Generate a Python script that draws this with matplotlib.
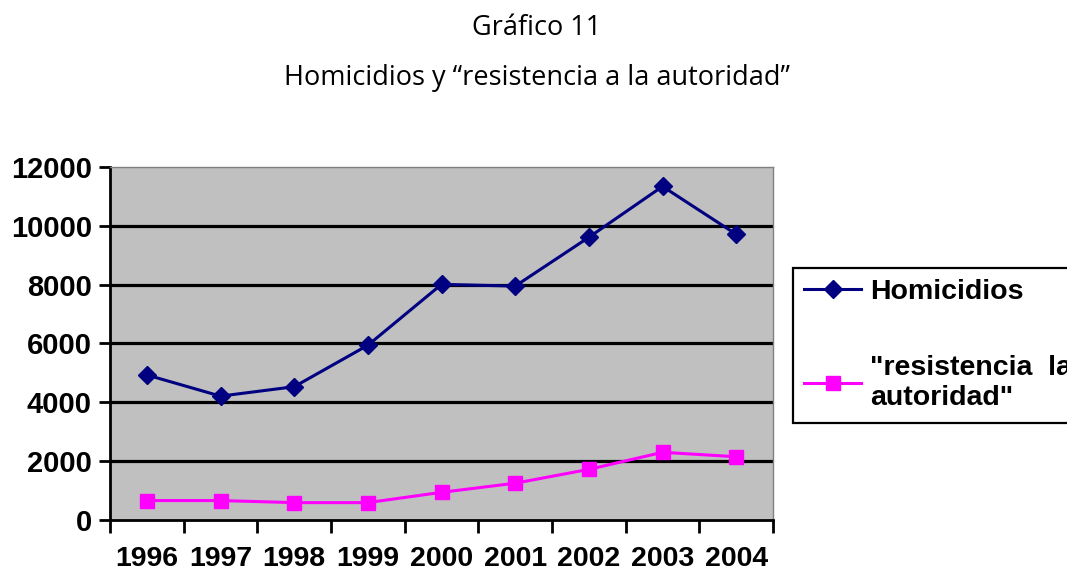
import numpy as np
import matplotlib
matplotlib.use("Agg")
import matplotlib.pyplot as plt

years = ['1996', '1997', '1998', '1999', '2000', '2001', '2002', '2003', '2004']
homicidios = [4930, 4210, 4530, 5940, 8010, 7950, 9610, 11340, 9710]
resistencia = [660, 660, 590, 590, 940, 1250, 1720, 2300, 2150]
yticks = [0, 2000, 4000, 6000, 8000, 10000, 12000]

plt.rcParams['font.family'] = ['Liberation Sans', 'DejaVu Sans']

fig = plt.figure(figsize=(10.67, 5.75), dpi=100)
ax = fig.add_axes([0.1031, 0.0957, 0.6214, 0.6139])
ax.set_facecolor('#C0C0C0')

x = np.arange(len(years)) + 0.5
ax.plot(x, homicidios, '-D', color='#000080', lw=2.2, ms=9,
        label='Homicidios', zorder=3)
ax.plot(x, resistencia, '-s', color='#FF00FF', lw=2.2, ms=10.5,
        label='"resistencia  la\nautoridad"', zorder=3)

ax.set_xlim(0, len(years))
ax.set_ylim(0, 12000)
ax.set_yticks(yticks)
ax.set_yticklabels([str(v) for v in yticks], fontsize=21, fontweight='bold')
for v in yticks[1:-1]:
    ax.axhline(v, color='black', lw=2.3, zorder=1)

ax.set_xticks(np.arange(len(years) + 1))
ax.set_xticklabels([])
ax.set_xticks(x, minor=True)
ax.set_xticklabels(years, minor=True, fontsize=20.5, fontweight='bold')
ax.tick_params(axis='x', which='major', direction='out', length=9, width=2)
ax.tick_params(axis='x', which='minor', length=0, pad=19)
ax.tick_params(axis='y', direction='out', length=8, width=2, pad=5)

for s in ['left', 'bottom']:
    ax.spines[s].set_linewidth(2)
    ax.spines[s].set_color('black')
for s in ['top', 'right']:
    ax.spines[s].set_linewidth(1)
    ax.spines[s].set_color('#808080')

fig.text(0.503, 0.951, 'Gráfico 11', ha='center', va='center',
         fontsize=19.5, family=['Open Sans', 'DejaVu Sans'])
fig.text(0.503, 0.864, 'Homicidios y \u201cresistencia a la autoridad\u201d',
         ha='center', va='center', fontsize=19.5, family=['Open Sans', 'DejaVu Sans'])

leg = fig.legend(loc='upper left', bbox_to_anchor=(0.743, 0.534),
                 borderaxespad=0, fancybox=False, framealpha=1,
                 edgecolor='black', prop={'size': 20.5, 'weight': 'bold'},
                 handlelength=2.0, handletextpad=0.3, labelspacing=1.75,
                 borderpad=0.4)
leg.get_frame().set_linewidth(1.6)

plt.savefig('out.png', dpi=100)
